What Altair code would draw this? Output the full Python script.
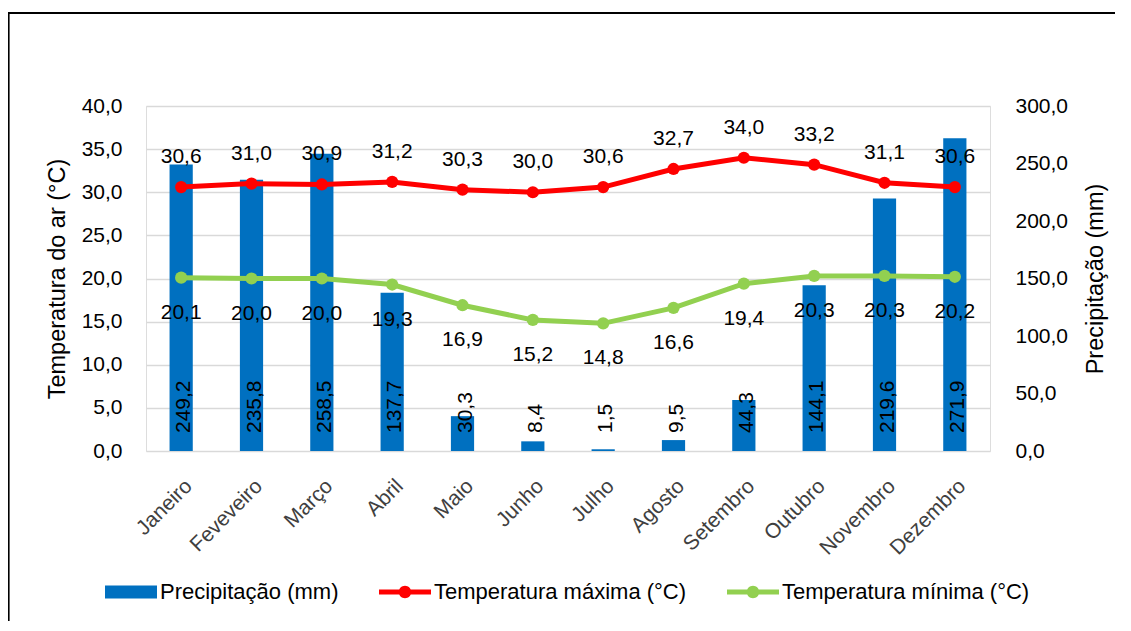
import altair as alt
import pandas as pd

meses = ["Janeiro", "Feveveiro", "Março", "Abril", "Maio", "Junho", "Julho",
         "Agosto", "Setembro", "Outubro", "Novembro", "Dezembro"]
precipitacao = [249.2, 235.8, 258.5, 137.7, 30.3, 8.4, 1.5, 9.5, 44.3, 144.1, 219.6, 271.9]
temp_max = [30.6, 31.0, 30.9, 31.2, 30.3, 30.0, 30.6, 32.7, 34.0, 33.2, 31.1, 30.6]
temp_min = [20.1, 20.0, 20.0, 19.3, 16.9, 15.2, 14.8, 16.6, 19.4, 20.3, 20.3, 20.2]
series = ["Precipitação (mm)", "Temperatura máxima (°C)", "Temperatura mínima (°C)"]
cores = ["#0070C0", "#FF0000", "#92D050"]
temp_ticks = [0, 5, 10, 15, 20, 25, 30, 35, 40]
prec_ticks = [0, 50, 100, 150, 200, 250, 300]

FONT = "Liberation Sans"
FS = 21
TFS = 23.5
LFS = 22


def br(v):
    return f"{v:.1f}".replace(".", ",")


df = pd.DataFrame({"mes": meses, "prec": precipitacao, "tmax": temp_max, "tmin": temp_min})
df["prec_lbl"] = [br(v) for v in precipitacao]
df["tmax_lbl"] = [br(v) for v in temp_max]
df["tmin_lbl"] = [br(v) for v in temp_min]

lab_expr = "replace(format(datum.value, '.1f'), '.', ',')"

x_enc = alt.X(
    "mes:N", sort=meses,
    scale=alt.Scale(paddingInner=0.67, paddingOuter=0.335),
    axis=alt.Axis(title=None, labelAngle=-45, domain=False, ticks=False,
                  labelFontSize=FS, labelColor="#404040", labelPadding=24,
                  labelFont=FONT),
)

# ---------------- precipitation layer (right axis) ----------------
y_prec = alt.Y(
    "prec:Q",
    scale=alt.Scale(domain=[0, 300], nice=False),
    axis=alt.Axis(orient="right", values=prec_ticks, grid=False, domain=False,
                  ticks=False, labelExpr=lab_expr, labelFontSize=FS,
                  labelColor="#000000", labelPadding=25, labelFont=FONT,
                  title="Precipitação (mm)", titleFontSize=TFS, titleFontWeight="normal",
                  titleColor="#000000", titlePadding=40, titleFont=FONT, titleAngle=270),
)

bars = alt.Chart(df).mark_bar(color=cores[0]).encode(x=x_enc, y=y_prec)

bar_text = alt.Chart(df).mark_text(
    angle=270, align="left", baseline="middle", dx=18, dy=3,
    fontSize=FS, font=FONT, color="#000000",
).encode(x=alt.X("mes:N", sort=meses), y=alt.datum(0), text="prec_lbl:N")

prec_layer = alt.layer(bars, bar_text)

# ---------------- temperature layer (left axis) ----------------
def y_temp(field):
    return alt.Y(
        f"{field}:Q",
        scale=alt.Scale(domain=[0, 40], nice=False),
        axis=alt.Axis(orient="left", values=temp_ticks, grid=True, gridColor="#D9D9D9",
                      gridWidth=1.3, domain=False, ticks=False, labelExpr=lab_expr,
                      labelFontSize=FS, labelColor="#000000", labelPadding=24,
                      labelFont=FONT, title="Temperatura do ar (°C)", titleFontSize=TFS,
                      titleFontWeight="normal", titleColor="#000000", titlePadding=12,
                      titleFont=FONT),
    )

xm = alt.X("mes:N", sort=meses)

line_max = alt.Chart(df).mark_line(color=cores[1], strokeWidth=5).encode(x=xm, y=y_temp("tmax"))
pt_max = alt.Chart(df).mark_point(color=cores[1], filled=True, size=150, opacity=1).encode(x=xm, y="tmax:Q")
txt_max = alt.Chart(df).mark_text(dy=-30, fontSize=FS, font=FONT, color="#000000").encode(
    x=xm, y="tmax:Q", text="tmax_lbl:N")

line_min = alt.Chart(df).mark_line(color=cores[2], strokeWidth=5).encode(x=xm, y="tmin:Q")
pt_min = alt.Chart(df).mark_point(color=cores[2], filled=True, size=150, opacity=1).encode(x=xm, y="tmin:Q")
txt_min = alt.Chart(df).mark_text(dy=35, fontSize=FS, font=FONT, color="#000000").encode(
    x=xm, y="tmin:Q", text="tmin_lbl:N")

# legend-only layer (no marks drawn)
leg_df = pd.DataFrame({"serie": series})
rect_path = "M-1,-0.25H1V0.25H-1Z"
line_path = ("M-1,-0.1H1V0.1H-1Z "
             "M-0.24,0A0.24,0.24 0 1,1 0.24,0A0.24,0.24 0 1,1 -0.24,0Z")
leg_props = dict(title=None, orient="none", legendX=-41, legendY=460,
                 direction="horizontal", columns=3, symbolSize=2704,
                 symbolStrokeWidth=0, labelFontSize=LFS, labelFont=FONT,
                 labelColor="#000000", labelOffset=3, columnPadding=40, labelLimit=0)
legend_layer = alt.Chart(leg_df).mark_point(filled=True, opacity=1).encode(
    color=alt.Color("serie:N", scale=alt.Scale(domain=series, range=cores),
                    legend=alt.Legend(**leg_props)),
    shape=alt.Shape("serie:N", scale=alt.Scale(domain=series,
                                               range=[rect_path, line_path, line_path]),
                    legend=alt.Legend(**leg_props)),
).transform_filter("false")

frame = alt.Chart(pd.DataFrame({"k": [0]})).mark_rect(
    fillOpacity=0, stroke="#000000", strokeWidth=2.2
).encode(x=alt.value(-137.5), x2=alt.value(1100), y=alt.value(-93), y2=alt.value(560))

temp_layer = alt.layer(line_max, line_min, pt_max, pt_min, txt_max, txt_min, legend_layer, frame)

chart = alt.layer(prec_layer, temp_layer).resolve_scale(y="independent").properties(
    width=844, height=345,
    padding={"left": 138, "top": 98, "right": 125, "bottom": 170},
    autosize=alt.AutoSizeParams(type="none"),
).configure_view(stroke=None).configure(font=FONT)

chart.save("out.html", embed_options={"renderer": "svg", "actions": False})
